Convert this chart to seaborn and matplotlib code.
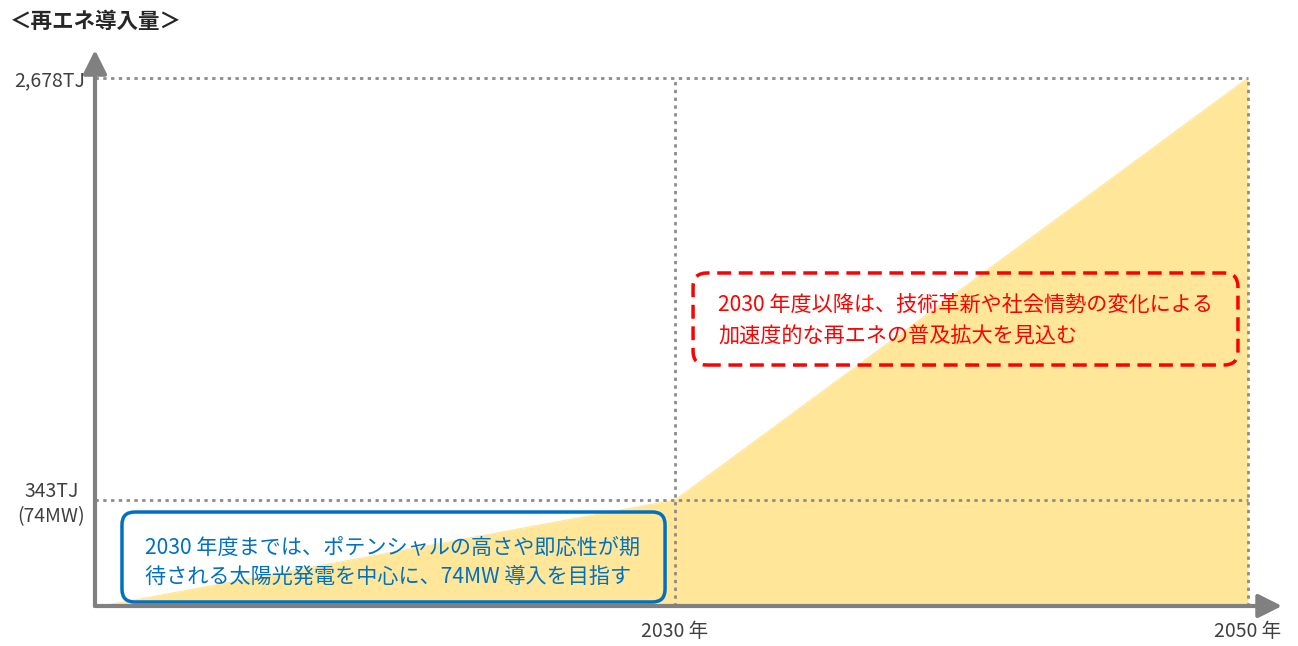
import numpy as np
import pandas as pd
import matplotlib
matplotlib.use("Agg")
import matplotlib.pyplot as plt
import seaborn as sns
from matplotlib.patches import FancyBboxPatch

# ---- data ----
years = [2010, 2030, 2050]
energy_tj = [0, 343, 2678]
ytick_values = [343, 2678]
ytick_labels = ["343TJ\n(74MW)", "2,678TJ"]
xtick_values = [2030, 2050]
xtick_labels = ["2030 年", "2050 年"]
title = "＜再エネ導入量＞"
note_red = ["2030 年度以降は、技術革新や社会情勢の変化による",
            "加速度的な再エネの普及拡大を見込む"]
note_blue = ["2030 年度までは、ポテンシャルの高さや即応性が期",
             "待される太陽光発電を中心に、74MW 導入を目指す"]

df = pd.DataFrame({"year": years, "tj": energy_tj})

sns.set_theme(style="white")
plt.rcParams["font.family"] = ["Noto Sans CJK JP", "DejaVu Sans"]

W, H = 1298, 646
fig = plt.figure(figsize=(W / 100, H / 100), dpi=100)
ax = fig.add_axes([95 / W, (H - 606) / H, (1248 - 95) / W, (606 - 78) / H])

# schematic (piecewise) value scale, as in the reference
brk_v = [0, 343, 2678]
brk_p = [0, 0.2008, 1.0]
fwd = lambda v: np.interp(v, brk_v, brk_p)
inv = lambda p: np.interp(p, brk_p, brk_v)
ax.set_yscale("function", functions=(fwd, inv))

fill_c = "#FFE699"
ax.fill_between(df["year"], 0, df["tj"], color=fill_c, lw=0, zorder=1)
sns.lineplot(data=df, x="year", y="tj", ax=ax, color=fill_c, lw=0.8, zorder=1)

ax.set_xlim(2009.76, 2050)
ax.set_ylim(0, 2678)
ax.set_xticks(xtick_values)
ax.set_xticklabels(xtick_labels)
ax.set_yticks(ytick_values)
ax.set_yticklabels(ytick_labels, multialignment="center")
ax.set_xlabel("")
ax.set_ylabel("")
ax.tick_params(axis="both", length=0, labelsize=14, colors="#404040")
ax.tick_params(axis="x", pad=11)
ax.tick_params(axis="y", pad=7)

ax.grid(True, color="#8c8c8c", ls=(0, (1.2, 1.6)), lw=2.0, zorder=2)
ax.set_axisbelow(False)
for gl in ax.get_xgridlines() + ax.get_ygridlines():
    gl.set_clip_on(False)
for s in ax.spines.values():
    s.set_visible(False)

# axes with arrows
axis_c = "#808080"
ap = dict(arrowstyle="-|>", color=axis_c, lw=3, mutation_scale=36, shrinkA=0, shrinkB=0)
ax.annotate("", xy=(0, 1.053), xytext=(0, 0), xycoords="axes fraction",
            textcoords="axes fraction", arrowprops=ap, annotation_clip=False, zorder=5)
ax.annotate("", xy=(1.0295, 0), xytext=(0, 0), xycoords="axes fraction",
            textcoords="axes fraction", arrowprops=ap, annotation_clip=False, zorder=5)

# note boxes
ax_w, ax_h = 1248 - 95, 606 - 78
asp = ax_w / ax_h
red_box = FancyBboxPatch((0.5187, 0.4564), 0.9913 - 0.5187, 0.6307 - 0.4564,
                         boxstyle="round,pad=0,rounding_size=0.012", mutation_aspect=asp,
                         transform=ax.transAxes, fill=False, ec="#FF0000", lw=2.5,
                         ls=(0, (4, 2.2)), zorder=4, clip_on=False)
ax.add_patch(red_box)
blue_box = FancyBboxPatch((0.0234, 0.0076), 0.4944 - 0.0234, 0.178 - 0.0076,
                          boxstyle="round,pad=0,rounding_size=0.011", mutation_aspect=asp,
                          transform=ax.transAxes, fill=False, ec="#0070C0", lw=2.5,
                          zorder=4, clip_on=False)
ax.add_patch(blue_box)

for txt, yy in zip(note_red, [0.570, 0.5095]):
    ax.text(0.5405, yy, txt, transform=ax.transAxes, color="#FF0000", fontsize=15.2,
            va="center", ha="left", zorder=6)
for txt, yy in zip(note_blue, [0.1098, 0.0549]):
    ax.text(0.0434, yy, txt, transform=ax.transAxes, color="#0070C0", fontsize=15.2,
            va="center", ha="left", zorder=6)

fig.text(10 / W, 1 - 22 / H, title, fontsize=15.5, fontweight="bold", color="#262626",
         va="center", ha="left")

fig.savefig("out.png", dpi=100)
